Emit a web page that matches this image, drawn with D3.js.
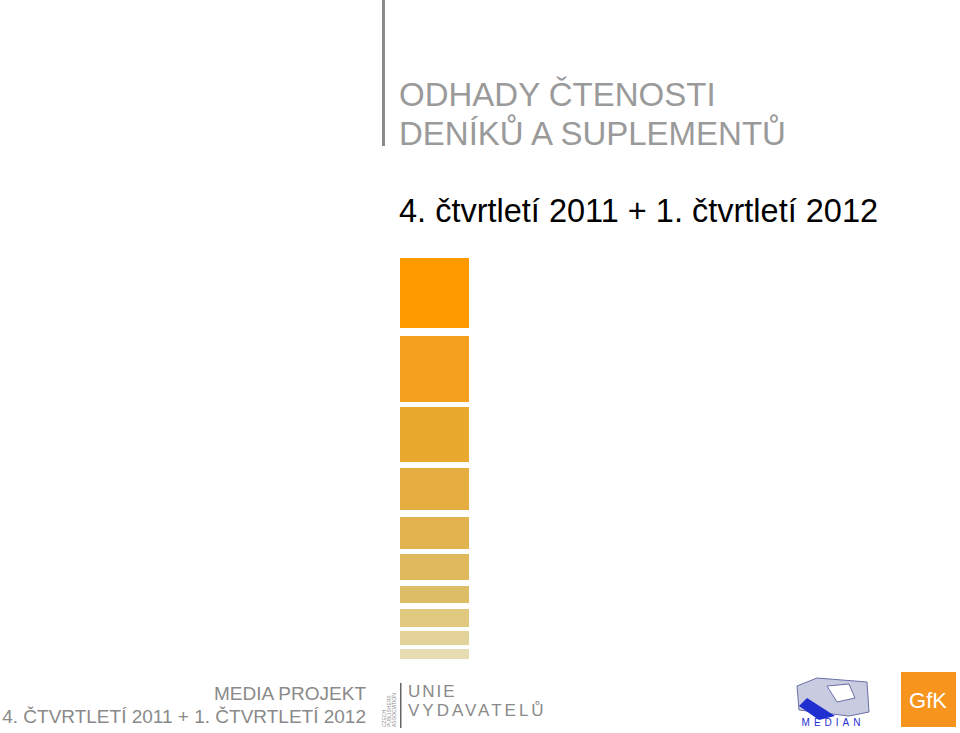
<!DOCTYPE html>
<html lang="en">
<head>
<script src="https://d3js.org/d3.v7.min.js"></script>
<style>body{margin:0;background:#fff}</style>
</head>
<body>
<script>
// block heights (px-like units) from top to bottom, and the gap after each
var blockSizes = [70, 66, 55, 42, 32, 26, 17, 18, 14, 10];
var blockGaps = [8, 5, 6, 7, 5, 6, 6, 4, 4, 0];
var blockColors = ['#FF9900','#F2A01E','#E9A82E','#E6AE40','#E2B44F','#E0B95C','#DDBE66','#E0C97E','#E3D299','#E7DBB2'];

var width = 960, height = 733;
var svg = d3.select("body").append("svg").attr("width", width).attr("height", height);

var starts = [], acc = 0;
for (var i = 0; i < blockSizes.length; i++) { starts.push(acc); acc += blockSizes[i] + blockGaps[i]; }
var y = d3.scaleLinear().domain([0, acc]).range([258, 258 + acc]);

svg.selectAll("rect.blk").data(blockSizes).enter().append("rect")
  .attr("class", "blk")
  .attr("x", 400).attr("width", 69)
  .attr("y", function(d, i) { return y(starts[i]); })
  .attr("height", function(d, i) { return y(starts[i] + d) - y(starts[i]); })
  .attr("fill", function(d, i) { return blockColors[i]; });

// vertical rule
svg.append("rect").attr("x", 382).attr("y", 0).attr("width", 3).attr("height", 146).attr("fill", "#8a8a8a");

var font = "Liberation Sans, Arial, sans-serif";
svg.append("text").attr("x", 399).attr("y", 106).attr("font-family", font).attr("font-size", 33)
  .attr("fill", "#9a9a9a").text("ODHADY ČTENOSTI");
svg.append("text").attr("x", 399).attr("y", 145).attr("font-family", font).attr("font-size", 33)
  .attr("fill", "#9a9a9a").text("DENÍKŮ A SUPLEMENTŮ");
svg.append("text").attr("x", 399).attr("y", 222).attr("font-family", font).attr("font-size", 32.5)
  .attr("fill", "#000").text("4. čtvrtletí 2011 + 1. čtvrtletí 2012");

// footer
svg.append("text").attr("x", 366).attr("y", 700).attr("text-anchor", "end").attr("font-family", font)
  .attr("font-size", 19).attr("fill", "#8a8a8a").text("MEDIA PROJEKT");
svg.append("text").attr("x", 366).attr("y", 723).attr("text-anchor", "end").attr("font-family", font)
  .attr("font-size", 19).attr("fill", "#8a8a8a").text("4. ČTVRTLETÍ 2011 + 1. ČTVRTLETÍ 2012");
var tiny = svg.append("g").attr("transform", "translate(392,727) rotate(-90)");
["CZECH", "PUBLISHERS", "ASSOCIATION"].forEach(function(t, i) {
  tiny.append("text").attr("x", 0).attr("y", -6 + i * 5).attr("font-family", font).attr("font-size", 5)
    .attr("fill", "#888").text(t);
});
svg.append("rect").attr("x", 400).attr("y", 683).attr("width", 1.5).attr("height", 45).attr("fill", "#666");
svg.append("text").attr("x", 408).attr("y", 697).attr("font-family", font).attr("font-size", 17)
  .attr("fill", "#8a8a8a").attr("letter-spacing", 2).text("UNIE");
svg.append("text").attr("x", 408).attr("y", 716).attr("font-family", font).attr("font-size", 17)
  .attr("fill", "#8a8a8a").attr("letter-spacing", 3).text("VYDAVATELŮ");

// MEDIAN logo
var m = svg.append("g").attr("transform", "translate(797,676)");
m.append("path").attr("d", "M20,2 L70,6 L72,36 L52,40 L2,34 L0,10 Z").attr("fill", "#c9cbe0").attr("stroke", "#6a6fa8");
m.append("path").attr("d", "M10,22 L38,40 L22,44 L2,30 Z").attr("fill", "#1f2fd0");
m.append("path").attr("d", "M30,10 L52,8 L58,22 L40,26 Z").attr("fill", "#fff").attr("stroke", "#6a6fa8");
m.append("text").attr("x", 36).attr("y", 50).attr("text-anchor", "middle").attr("font-family", font)
  .attr("font-size", 10).attr("letter-spacing", 4).attr("fill", "#1f2fd0").text("MEDIAN");

// GfK logo
svg.append("rect").attr("x", 901).attr("y", 672).attr("width", 55).attr("height", 55).attr("fill", "#F7941D");
svg.append("text").attr("x", 928).attr("y", 708).attr("text-anchor", "middle").attr("font-family", font)
  .attr("font-size", 22).attr("fill", "#fff").text("GfK");
</script>
</body>
</html>
